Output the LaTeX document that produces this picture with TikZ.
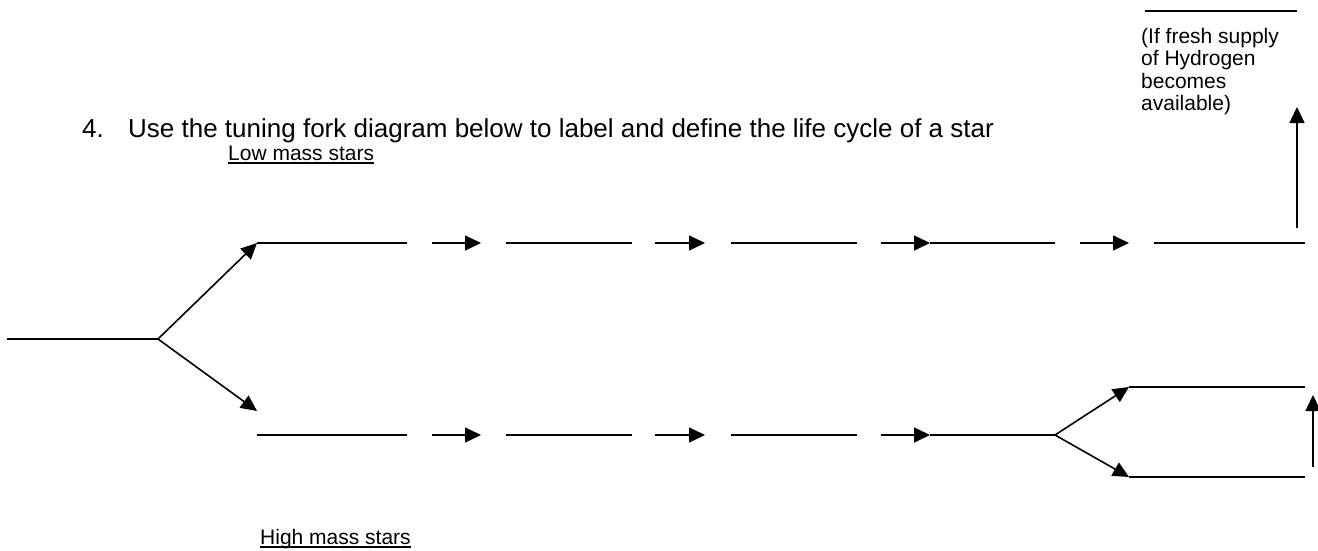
\documentclass[tikz,border=0pt]{standalone}
\usepackage{fontspec}
\setmainfont{Liberation Sans}
\usetikzlibrary{arrows.meta}
\begin{document}
\begin{tikzpicture}[x=1pt,y=-1pt,
  blank/.style={line width=1.6pt},
  arr/.style={line width=1.6pt,-{Triangle[length=16pt,width=15pt]}},
  lbl/.style={inner sep=0pt,anchor=base west,font=\fontsize{21}{22.3}\selectfont},
  ttl/.style={inner sep=0pt,anchor=base west,font=\fontsize{26}{30}\selectfont},
  ul/.style={line width=1.8pt}]
\useasboundingbox (0,0) rectangle (1318,551);
% texts
\node[ttl] (num) at (82,137) {4.};
\node[ttl] (title) at (128,137) {Use the tuning fork diagram below to label and define the life cycle of a star};
\node[lbl] (low) at (228,160) {Low mass stars};
\draw[ul] ([yshift=-3pt]low.base west) -- ([yshift=-3pt]low.base east);
\node[lbl] (high) at (260,544) {High mass stars};
\draw[ul] ([yshift=-3pt]high.base west) -- ([yshift=-3pt]high.base east);
\node[inner sep=0pt,anchor=north west,align=left,font=\fontsize{21}{22.3}\selectfont] (note) at (1141,28)
  {(If fresh supply\\of Hydrogen\\becomes\\available)};
% upper row
\foreach \i/\a/\b in {1/257/407,2/506/632,3/731/857,4/930/1055,5/1154/1305}{
  \coordinate (ua\i) at (\a,243); \coordinate (ub\i) at (\b,243);}
\foreach \i/\a/\b in {1/432/481,2/655/705,3/881/930,4/1080/1129}{
  \coordinate (uas\i) at (\a,243); \coordinate (uat\i) at (\b,243);}
\foreach \i in {1,...,5} \draw[blank] (ua\i) -- (ub\i);
\foreach \i in {1,...,4} \draw[arr] (uas\i) -- (uat\i);
% lower row
\foreach \i/\a/\b in {1/257/407,2/506/632,3/731/857,4/930/1055}{
  \coordinate (la\i) at (\a,435); \coordinate (lb\i) at (\b,435);}
\foreach \i/\a/\b in {1/432/481,2/655/705,3/881/930}{
  \coordinate (las\i) at (\a,435); \coordinate (lat\i) at (\b,435);}
\foreach \i in {1,...,4} \draw[blank] (la\i) -- (lb\i);
\foreach \i in {1,...,3} \draw[arr] (las\i) -- (lat\i);
% left fork
\coordinate (f0) at (7,339);
\coordinate (f1) at (158,339);
\coordinate (fd) at (257,411);
\draw[blank] (f0) -- (f1);
\draw[arr] (f1) -- (ua1);
\draw[arr] (f1) -- (fd);
% right fork
\coordinate (gu) at (1129,387);
\coordinate (gue) at (1305,387);
\coordinate (gd) at (1129,477);
\coordinate (gde) at (1305,477);
\draw[arr] (lb4) -- (gu);
\draw[arr] (lb4) -- (gd);
\draw[blank] (gu) -- (gue);
\draw[blank] (gd) -- (gde);
\coordinate (va) at (1313,467);
\coordinate (vb) at (1313,395);
\draw[arr] (va) -- (vb);
% top right
\coordinate (ta) at (1297,228);
\coordinate (tb) at (1297,107);
\draw[arr] (ta) -- (tb);
\coordinate (tl) at (1145,11);
\coordinate (tr) at (1297,11);
\draw[blank] (tl) -- (tr);
\end{tikzpicture}
\end{document}
